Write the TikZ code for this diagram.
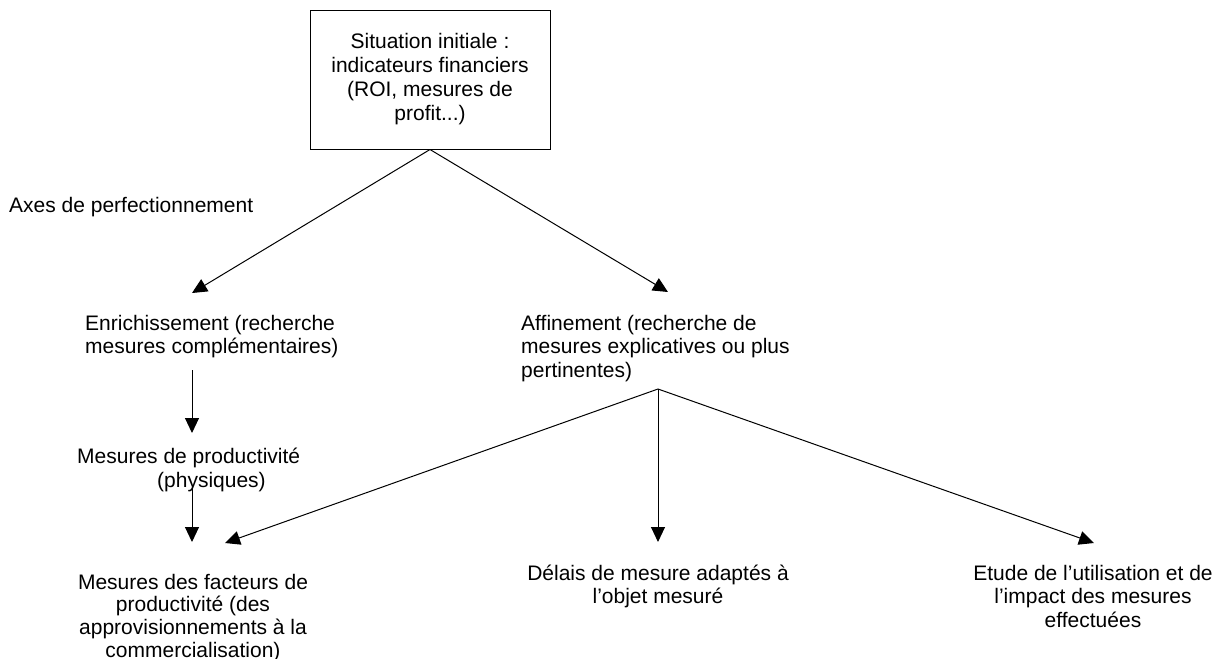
\documentclass[tikz,border=0pt]{standalone}
\usepackage{fontspec}
\setmainfont{Liberation Sans}
\usetikzlibrary{arrows.meta}
\tikzset{
  lbl/.style={inner sep=0pt, font=\fontsize{21}{23.5}\selectfont},
  conn/.style={line width=1pt, draw=black},
  arr/.style={conn, -{Triangle[length=15pt,width=14pt]}},
  topbox/.style={draw, line width=1pt, minimum width=240pt, minimum height=139pt, inner sep=0pt, align=center, font=\fontsize{21}{24}\selectfont}
}
\begin{document}
\begin{tikzpicture}[x=1pt,y=-1pt]
\useasboundingbox (0,0) rectangle (1227,659);
% top box
\node[topbox] (init) at (430,79.5) {Situation initiale :\\indicateurs financiers\\(ROI, mesures de\\profit...)};
% labels (base anchor = baseline of the last line)
\node[lbl, anchor=base west] (axes) at (9,212) {Axes de perfectionnement};
\node[lbl, anchor=base west, align=left] (enr) at (85,353.5) {Enrichissement (recherche\\mesures compl\'ementaires)};
\node[lbl, anchor=base west, align=left] (aff) at (521,377) {Affinement (recherche de\\mesures explicatives ou plus\\pertinentes)};
\node[lbl, anchor=base west, align=left] (prod) at (77,487) {Mesures de productivité\\\hspace*{80pt}(physiques)};
\node[lbl, anchor=base, align=center, font=\fontsize{21}{22.6}\selectfont] (fact) at (193,657) {Mesures des facteurs de\\productivité (des\\approvisionnements à la\\commercialisation)};
\node[lbl, anchor=base, align=center] (delais) at (658,603.5) {Délais de mesure adaptés à\\l’objet mesuré};
\node[lbl, anchor=base, align=center] (etude) at (1093,627) {Etude de l’utilisation et de\\l’impact des mesures\\effectuées};
% connector points
\coordinate (enrTip) at (192,293);
\coordinate (affTip) at (668,292);
\coordinate (enrOut) at (192,370);
\coordinate (prodTip) at (192,433);
\coordinate (prodOut) at (192,488);
\coordinate (factTipA) at (192,542);
\coordinate (branch) at (658,389);
\coordinate (factTipB) at (225,543);
\coordinate (delaisTip) at (658,542);
\coordinate (etudeTip) at (1094,543);
% connectors
\draw[arr] (init.south) -- (enrTip);
\draw[arr] (init.south) -- (affTip);
\draw[arr] (enrOut) -- (prodTip);
\draw[arr] (prodOut) -- (factTipA);
\draw[arr] (branch) -- (factTipB);
\draw[arr] (branch) -- (delaisTip);
\draw[arr] (branch) -- (etudeTip);
\end{tikzpicture}
\end{document}
